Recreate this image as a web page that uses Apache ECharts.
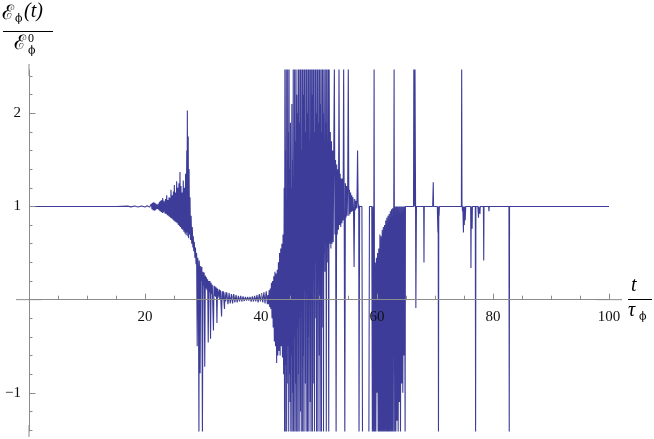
<!DOCTYPE html>
<html>
<head>
<meta charset="utf-8">
<script src="https://cdn.jsdelivr.net/npm/echarts@6/dist/echarts.min.js"></script>
<style>
  html, body { margin: 0; padding: 0; background: #fff; }
  #main { width: 654px; height: 439px; }
</style>
</head>
<body>
<div id="main"></div>
<script>
// ticks (x: major every 20, minor every 5)
const xMajorStep = 20
const xMinorSplit = 4
const yMinor = [-1.4, -1.2, -1, -0.8, -0.6, -0.4, -0.2, 0.2, 0.4, 0.6, 0.8, 1, 1.2, 1.4, 1.6, 1.8, 2, 2.2, 2.4]
const yMajor = [-1, 1, 2]

// E_phi(t)/E_phi^0 against t/tau_phi ([t, value])
// values outside the frame are clipped in the original, written as 2.5 / -1.45
const calm = [
  [0, 1], [15, 1], [17, 1.004], [17.6, 0.996], [18.2, 1.005], [18.8, 0.995],
  [19.4, 1.006], [20, 0.994], [20.4, 1.007], [20.8, 0.993]
]

const growth = [
  [20.9, 1.01], [21.0, 0.99], [21.1, 1.03], [21.2, 0.97], [21.3, 1.04], [21.4, 0.96],
  [21.5, 1.045], [21.6, 0.955], [21.7, 1.04], [21.8, 0.96], [21.9, 1.03], [22.0, 0.97],
  [22.1, 1.02], [22.2, 0.975], [22.3, 1.03], [22.4, 0.96], [22.5, 1.05], [22.6, 0.95],
  [22.7, 1.06], [22.8, 0.94], [22.9, 1.07], [23.0, 0.93], [23.05, 1.09], [23.2, 0.935],
  [23.3, 1.06], [23.45, 0.925], [23.55, 1.08], [23.65, 0.92], [23.74, 1.12], [23.85, 0.905],
  [23.95, 1.07], [24.05, 0.9], [24.15, 1.1], [24.2, 0.89], [24.3, 1.09], [24.4, 0.88],
  [24.48, 1.18], [24.6, 0.87], [24.7, 1.12], [24.8, 0.86], [24.9, 1.16], [24.95, 0.85],
  [25.06, 1.23], [25.15, 0.84], [25.25, 1.15], [25.35, 0.83], [25.46, 1.27], [25.55, 0.82],
  [25.65, 1.2], [25.75, 0.8], [25.85, 1.25], [25.95, 0.79], [26.03, 1.37], [26.1, 0.78],
  [26.2, 1.22], [26.3, 0.76], [26.4, 1.15], [26.5, 0.75], [26.6, 1.28], [26.7, 0.73],
  [26.8, 1.2], [26.9, 0.71], [27.0, 1.35], [27.1, 0.69], [27.2, 1.6], [27.25, 0.72],
  [27.3, 2.03], [27.38, 0.68], [27.45, 1.75], [27.52, 0.66], [27.6, 1.4], [27.68, 0.7],
  [27.76, 1.1], [27.85, 0.64], [27.95, 0.9], [28.05, 0.6], [28.15, 0.78], [28.25, 0.56],
  [28.33, 0.68]
]

const decay = [
  [28.4, 0.52], [28.5, 0.62], [28.6, 0.45], [28.7, 0.56], [28.8, 0.38], [28.9, 0.5],
  [29.0, -0.5], [29.1, 0.45], [29.2, 0.3], [29.3, -1.45], [29.35, 0.42], [29.45, 0.25],
  [29.5, -0.79], [29.6, 0.36], [29.7, 0.2], [29.8, 0.35], [29.9, -1.45], [30.0, 0.3],
  [30.1, 0.15], [30.2, 0.29], [30.3, -0.72], [30.4, 0.26], [30.5, 0.12], [30.6, 0.24],
  [30.7, 0.1], [30.8, 0.22], [30.9, -0.46], [31.0, 0.2], [31.1, 0.08], [31.2, 0.2],
  [31.3, -0.42], [31.4, 0.18], [31.5, 0.06], [31.6, 0.16], [31.8, -0.33], [31.9, 0.15],
  [32.0, 0.04], [32.1, 0.14], [32.2, 0.03], [32.3, 0.13], [32.4, -0.25], [32.5, 0.12],
  [32.6, 0.02], [32.8, 0.11], [32.9, 0.0], [33.0, 0.1], [33.2, -0.18], [33.3, 0.09],
  [33.4, 0.0], [33.5, 0.09], [33.7, -0.1], [33.8, 0.08], [33.9, -0.02], [34.1, 0.08],
  [34.3, -0.05], [34.5, 0.07], [34.7, -0.04], [34.9, 0.06], [35.1, -0.04], [35.3, 0.06],
  [35.5, -0.03], [35.7, 0.05], [35.9, -0.03], [36.1, 0.04], [36.3, -0.02], [36.5, 0.04],
  [36.7, -0.02], [36.9, 0.035], [37.1, -0.015], [37.3, 0.03], [37.5, -0.01], [37.7, 0.03],
  [37.9, -0.01], [38.1, 0.03], [38.3, -0.02], [38.5, 0.035], [38.7, -0.02], [38.9, 0.04],
  [39.1, -0.02], [39.3, 0.05], [39.5, -0.03], [39.7, 0.06], [39.9, -0.02], [40.1, 0.07],
  [40.3, -0.03], [40.5, 0.08], [40.7, -0.04], [40.9, 0.09], [41.1, -0.05]
]

const onset = [
  [41.2, 0.05], [41.3, -0.05], [41.4, 0.1], [41.5, -0.08], [41.6, 0.12], [41.7, -0.1],
  [41.8, 0.18], [41.9, -0.2], [42.0, 0.2], [42.1, -0.3], [42.2, 0.25], [42.3, -0.45],
  [42.4, 0.3], [42.5, -0.5], [42.6, 0.28], [42.7, -0.68], [42.8, 0.32], [42.9, -0.6],
  [43.0, 0.4], [43.1, -0.55], [43.2, 0.5], [43.3, -0.6], [43.4, 0.55], [43.5, -0.5],
  [43.6, 0.6], [43.7, -0.62], [43.8, 0.7], [43.9, -0.8]
]

const burst = [
  [44.00, 1.2], [44.06, -1.45], [44.12, 2.5], [44.18, -1.45], [44.24, 1.6], [44.30, -0.7],
  [44.36, 2.5], [44.42, -1.45], [44.48, 0.9], [44.54, -0.9], [44.60, 2.5], [44.66, -0.5],
  [44.72, 1.8], [44.78, -1.45], [44.84, 2.5], [44.90, -0.8], [44.96, 1.4], [45.02, -1.1],
  [45.08, 1.9], [45.14, -1.45], [45.20, 1.2], [45.26, -0.6], [45.32, 2.1], [45.38, -1.45],
  [45.44, 1.5], [45.50, -1.0], [45.56, 2.5], [45.62, -1.45], [45.68, 1.3], [45.74, -0.4],
  [45.80, 2.5], [45.86, -1.45], [45.92, 1.7], [45.98, -0.9], [46.04, 2.5], [46.10, -1.45],
  [46.16, 2.2], [46.22, -0.3], [46.28, 2.0], [46.34, -1.45], [46.40, 2.5], [46.46, -0.8],
  [46.52, 2.5], [46.58, -1.45], [46.64, 1.9], [46.70, -0.2], [46.76, 2.5], [46.82, -1.2],
  [46.88, 2.5], [46.94, -1.45], [47.00, 1.6], [47.06, 0.0], [47.12, 2.5], [47.18, -1.45],
  [47.24, 2.5], [47.30, -0.6], [47.36, 2.2], [47.42, -1.45], [47.48, 2.5], [47.54, 0.1],
  [47.60, 2.5], [47.66, -0.9], [47.72, 1.8], [47.78, -1.45], [47.84, 2.5], [47.90, 0.2],
  [47.96, 2.5], [48.02, -1.45], [48.08, 2.0], [48.14, -0.4], [48.20, 2.5], [48.26, -1.45],
  [48.32, 2.5], [48.38, 0.3], [48.44, 1.7], [48.50, -1.1], [48.56, 2.5], [48.62, -1.45],
  [48.68, 2.5], [48.74, 0.2], [48.80, 2.2], [48.86, -1.45], [48.92, 2.5], [48.98, 0.4],
  [49.04, 2.5], [49.10, -0.9], [49.16, 1.8], [49.22, -1.45], [49.28, 2.5], [49.34, 0.4],
  [49.40, 2.5], [49.46, -0.2], [49.52, 2.0], [49.58, -1.45], [49.64, 2.5], [49.70, 0.5],
  [49.76, 2.5], [49.82, -1.45], [49.88, 1.9], [49.94, 0.3], [50.00, 2.5], [50.06, -0.6],
  [50.12, 2.5], [50.18, -1.45], [50.24, 2.1], [50.30, 0.5], [50.36, 2.5], [50.42, -1.45],
  [50.48, 1.8], [50.54, 0.6], [50.60, 2.5], [50.66, -0.3], [50.72, 2.0], [50.78, -1.45],
  [50.84, 2.5], [50.90, 0.5], [50.96, 1.7], [51.02, 0.3], [51.08, 2.5], [51.14, 0.6],
  [51.20, 1.9], [51.26, -1.45], [51.32, 2.5], [51.38, 0.55], [51.44, 1.6], [51.50, 0.4],
  [51.56, 2.5], [51.62, 0.6], [51.68, -1.45]
]

const taper = [
  [51.75, 2.5], [51.85, 0.6], [51.95, 1.8], [52.05, 0.55], [52.15, 1.7], [52.25, 0.6],
  [52.35, 1.6], [52.45, 0.62], [52.55, 1.65], [52.65, 2.5], [52.75, 0.7], [52.85, 1.5],
  [52.95, -1.45], [53.05, 1.45], [53.15, 0.7], [53.25, 1.4], [53.35, 0.75], [53.45, 2.5],
  [53.55, 0.8], [53.65, 1.35], [53.75, 0.78], [53.85, 1.3], [53.95, 0.82], [54.05, 1.3],
  [54.15, 0.85], [54.25, 2.5], [54.35, 0.85], [54.45, -1.45], [54.55, 1.25], [54.65, 0.88],
  [54.75, 1.22], [54.85, 0.9], [54.95, 1.2], [55.05, 2.5], [55.15, 0.9], [55.25, 1.18],
  [55.35, 0.92], [55.45, 1.15], [55.55, 0.94], [55.65, 1.12], [55.75, 0.95], [55.85, 1.1],
  [55.95, 0.97], [56.05, 0.35], [56.15, 1.08], [56.25, 0.96], [56.35, 1.06], [56.45, 0.98],
  [56.55, 1.05], [56.65, 1.6], [56.75, 0.98], [56.85, 1.02], [56.9, -1.45], [57.0, 1.0],
  [57.4, 1.0], [57.5, -1.45], [58.6, -1.45], [58.7, 1.0], [59.1, 1.0]
]

const relax = [
  [59.2, -1.45], [59.3, 1.0], [59.4, -1.45], [59.5, 2.5], [59.6, -1.45], [59.7, 0.4],
  [59.8, -1.45], [59.9, 0.45], [60.0, -1.0], [60.1, 0.5], [60.2, -1.45], [60.3, 0.55],
  [60.4, -1.45], [60.5, 0.7], [60.6, -1.45], [60.7, 0.68], [60.8, -1.45], [60.9, 0.75],
  [61.0, -1.45], [61.1, 0.78], [61.2, -1.45], [61.3, 0.8], [61.4, -1.45], [61.5, 0.85],
  [61.6, -1.45], [61.7, 0.88], [61.8, -1.45], [61.9, 0.9], [62.0, -1.45], [62.1, 0.92],
  [62.2, -1.45], [62.3, 0.95], [62.4, -1.45], [62.5, 0.97], [62.6, -1.45], [62.7, 0.98],
  [62.8, -1.45], [62.95, 2.5], [63.05, -1.45], [63.15, 1.0], [63.25, -1.45], [63.35, 1.0],
  [63.45, -1.3], [63.55, 1.0], [63.65, -1.45], [63.75, 1.0], [63.85, -1.1], [63.95, 1.0],
  [64.05, -1.45], [64.15, 1.0], [64.25, -0.9], [64.35, 1.0], [64.45, -1.0], [64.55, 1.0],
  [64.65, -0.6], [64.75, 1.0], [64.85, -1.45], [64.9, 1.0]
]

const tail = [
  [66.3, 1.0], [66.35, 2.5], [66.45, 1.0], [66.55, 2.5], [66.65, 1.0], [66.7, -0.09],
  [66.8, 1.0], [68.05, 1.0], [68.1, 0.4], [68.15, 1.0], [69.6, 1.0], [69.7, 1.26],
  [69.75, 1.0], [69.9, 0.98], [70.4, 1.0], [70.5, 0.72], [70.55, 1.0], [70.6, -1.45],
  [70.65, 1.0], [70.7, 0.9], [70.75, 1.0], [74.55, 1.0], [74.6, 2.5], [74.65, 1.02],
  [74.75, 0.95], [74.8, 1.0], [74.9, 0.72], [74.95, 1.0], [75.05, 0.8], [75.1, 1.0],
  [75.2, 0.85], [75.3, 1.0], [76.15, 1.0], [76.2, 0.34], [76.25, 1.0], [76.35, 1.0],
  [76.4, 0.76], [76.45, 1.0], [76.95, 1.0], [77.0, -1.45], [77.05, 1.0], [77.4, 1.0],
  [77.5, 0.88], [77.55, 1.0], [77.75, 0.92], [77.8, 1.0], [78.35, 1.0], [78.4, 0.42],
  [78.45, 1.0], [79.25, 1.0], [79.3, 0.95], [79.35, 1.0], [82.75, 1.0], [82.8, -1.45],
  [82.85, 1.0], [100, 1.0]
]

const data = [].concat(calm, growth, decay, onset, burst, taper, relax, tail)

const axisColor = '#8c8c8c'
const labelFont = { fontFamily: 'Liberation Serif', fontSize: 15, color: '#111' }
const yMin = -1.41
const yMax = 2.465
const gridTop = 70
const gridBottom = 8
const plotH = 439 - gridTop - gridBottom

const chart = echarts.init(document.getElementById('main'))

chart.setOption({
  animation: false,
  grid: { left: 29, right: 45, top: gridTop, bottom: gridBottom, outerBoundsMode: 'none' },
  xAxis: {
    type: 'value', min: 0, max: 100, interval: xMajorStep, position: 'bottom', z: 5,
    // sit on y = 0: shift up from the grid bottom by the height of the negative part
    offset: -plotH * (0 - yMin) / (yMax - yMin),
    axisLine: {
      onZero: false, symbol: ['rect', 'rect'], symbolSize: [1, 26],
      lineStyle: { color: axisColor, width: 1 }
    },
    axisTick: { inside: true, length: 6, lineStyle: { color: axisColor } },
    minorTick: { show: true, splitNumber: xMinorSplit, length: 4, lineStyle: { color: axisColor } },
    axisLabel: { margin: 10, ...labelFont, formatter: v => (v === 0 ? '' : String(v)) },
    splitLine: { show: false },
    minorSplitLine: { show: false }
  },
  yAxis: [
    {
      type: 'value', min: yMin, max: yMax, z: 5,
      axisLine: {
        show: true, onZero: false, symbol: ['rect', 'rect'], symbolSize: [1, 12],
        lineStyle: { color: axisColor, width: 1 }
      },
      axisTick: { show: true, inside: true, length: 3.5, customValues: yMinor, lineStyle: { color: axisColor } },
      axisLabel: { show: false },
      splitLine: { show: false }
    },
    {
      type: 'value', min: yMin, max: yMax, position: 'left', z: 5,
      axisLine: { show: false, onZero: false },
      axisTick: { show: true, inside: true, length: 6.5, customValues: yMajor, lineStyle: { color: axisColor } },
      axisLabel: {
        customValues: yMajor, margin: 8, ...labelFont,
        formatter: v => (v < 0 ? '\u2212' + Math.abs(v) : String(v))
      },
      splitLine: { show: false }
    }
  ],
  graphic: [
    // y axis name: E_phi(t) / E_phi^0
    { type: 'text', x: 2, y: 4, style: { text: 'ℰ', font: '20px "DejaVu Serif"', fill: '#000' } },
    { type: 'text', x: 15, y: 14, style: { text: 'ϕ', font: '11px "DejaVu Serif"', fill: '#000' } },
    { type: 'text', x: 24, y: 2, style: { text: '(t)', font: 'italic 20px "Liberation Serif"', fill: '#000' } },
    { type: 'line', shape: { x1: 3, y1: 31.5, x2: 53, y2: 31.5 }, style: { stroke: '#000', lineWidth: 1 } },
    { type: 'text', x: 14, y: 34, style: { text: 'ℰ', font: '20px "DejaVu Serif"', fill: '#000' } },
    { type: 'text', x: 28, y: 33, style: { text: '0', font: '12px "Liberation Serif"', fill: '#000' } },
    { type: 'text', x: 28, y: 46, style: { text: 'ϕ', font: '11px "DejaVu Serif"', fill: '#000' } },
    // x axis name: t / tau_phi
    { type: 'text', x: 631, y: 276, style: { text: 't', font: 'italic 20px "Liberation Serif"', fill: '#000' } },
    { type: 'line', shape: { x1: 628, y1: 299.5, x2: 652, y2: 299.5 }, style: { stroke: '#000', lineWidth: 1 } },
    { type: 'text', x: 628, y: 301, style: { text: 'τ', font: 'italic 20px "Liberation Serif"', fill: '#000' } },
    { type: 'text', x: 639, y: 312, style: { text: 'ϕ', font: '11px "DejaVu Serif"', fill: '#000' } }
  ],
  series: [
    {
      type: 'line',
      data: data,
      showSymbol: false,
      symbol: 'none',
      clip: true,
      z: 2,
      lineStyle: { color: '#3d3d99', width: 1.1 }
    }
  ]
})
</script>
</body>
</html>
